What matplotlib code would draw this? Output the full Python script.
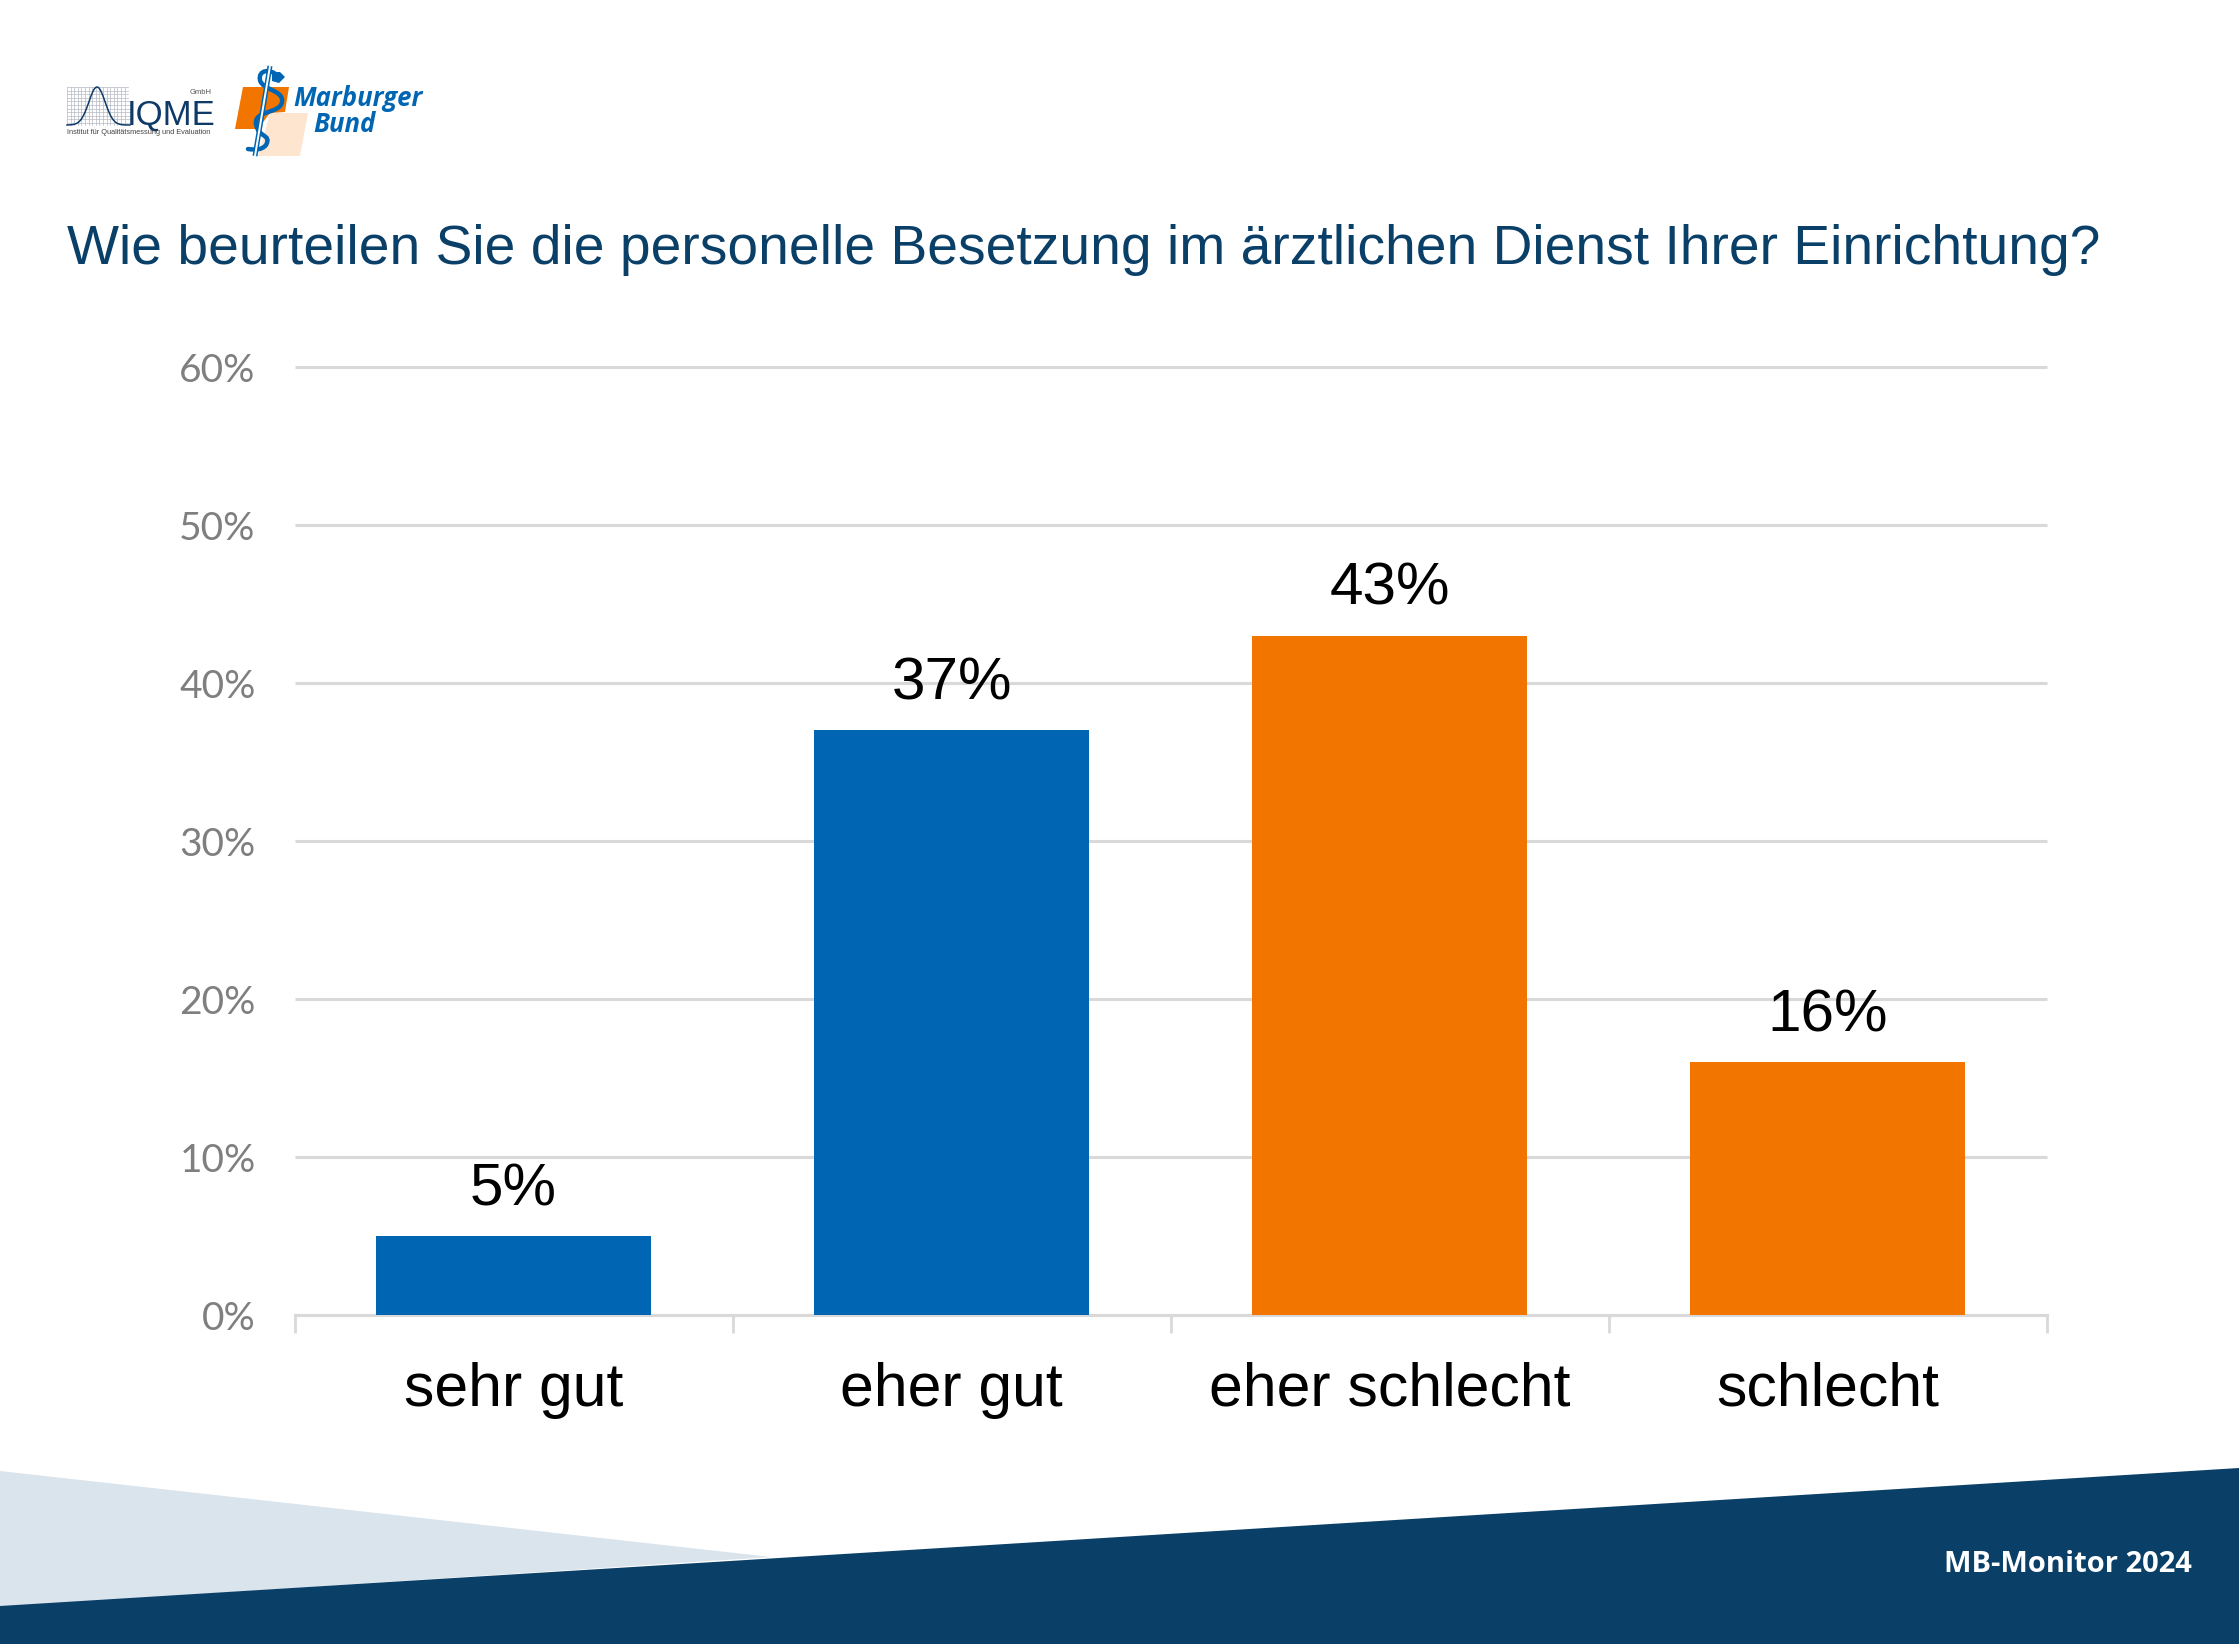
import numpy as np
import matplotlib
matplotlib.use("Agg")
import matplotlib.pyplot as plt
from matplotlib.patches import Polygon, PathPatch
from matplotlib.path import Path

categories = ["sehr gut", "eher gut", "eher schlecht", "schlecht"]
values = [5, 37, 43, 16]
value_labels = ["5%", "37%", "43%", "16%"]
bar_colors = ["#0066B3", "#0066B3", "#F27500", "#F27500"]
y_ticks = [0, 10, 20, 30, 40, 50, 60]
y_tick_labels = ["0%", "10%", "20%", "30%", "40%", "50%", "60%"]
title = "Wie beurteilen Sie die personelle Besetzung im ärztlichen Dienst Ihrer Einrichtung?"
footer = "MB-Monitor 2024"

W, H = 2239, 1644
fig = plt.figure(figsize=(W / 100, H / 100), dpi=100, facecolor="white")

# background overlay in pixel coordinates
bg = fig.add_axes([0, 0, 1, 1], zorder=0)
bg.set_xlim(0, W)
bg.set_ylim(H, 0)
bg.axis("off")
NAVY = "#0A3F68"
bg.add_patch(Polygon([(0, 1471), (771, 1557), (0, 1607)], fc="#DAE4EC", ec="none"))
bg.add_patch(Polygon([(0, 1606), (W, 1468), (W, H), (0, H)], fc=NAVY, ec="none"))
bg.text(2192, 1564, footer, color="white", fontsize=21, family="Open Sans",
        fontweight="bold", ha="right", va="center")
bg.text(67, 250, title, color="#0A3F68", fontsize=39.7, family="Liberation Sans",
        ha="left", va="center")

# IQME logo
for x in np.arange(67, 128, 3.6):
    bg.plot([x, x], [87, 125], color="#B5BAC2", lw=0.5)
for i, y in enumerate(np.arange(87, 125.5, 3.6)):
    bg.plot([67, 128 + (3 if i > 3 else 0)], [y, y], color="#B5BAC2", lw=0.5)
bx = np.linspace(67, 130, 80)
bg.plot(bx, 125 - 38 * np.exp(-((bx - 97) / 11.5) ** 2), color="#0F3A68", lw=1.1)
bg.text(127, 125, "IQME", color="#0F3A68", fontsize=25, family="Liberation Sans", ha="left",
        va="baseline")
bg.text(212, 92, "GmbH", color="#555555", fontsize=5.5, family="Liberation Sans", ha="right", va="center")
bg.text(67, 133, "Institut für Qualitätsmessung und Evaluation", color="#444444", fontsize=5.3,
        family="Liberation Sans", ha="left", va="center")

# Marburger Bund logo
bg.add_patch(Polygon([(243, 87), (289, 87), (285, 112), (270, 113), (258, 129), (235, 129)],
                     fc="#F27500", ec="none"))
bg.add_patch(Polygon([(270, 113), (308, 113), (300, 156), (258, 156)], fc="#FDE5D0", ec="none"))
bg.plot([270, 255], [66, 156], color="#0066B3", lw=3.6, solid_capstyle="butt")
bg.plot([270, 255], [66, 156], color="white", lw=1.4, solid_capstyle="butt")
snake = Path([(278, 76), (270, 68), (258, 70), (260, 80),
              (262, 90), (284, 90), (282, 102),
              (280, 114), (254, 110), (256, 124),
              (258, 138), (272, 134), (266, 145),
              (262, 150), (255, 150), (248, 149)],
             [Path.MOVETO] + [Path.CURVE4] * 15)
bg.add_patch(PathPatch(snake, fc="none", ec="#0066B3", lw=3.2, capstyle="round"))
bg.add_patch(Polygon([(272, 72), (280, 72), (285, 77), (279, 83), (272, 81)], fc="#0066B3", ec="none"))
bg.text(293, 99, "Marburger", color="#0066B3", fontsize=18.5, family="Open Sans",
        fontweight="bold", style="italic", ha="left", va="center")
bg.text(313, 125, "Bund", color="#0066B3", fontsize=18.5, family="Open Sans",
        fontweight="bold", style="italic", ha="left", va="center")

# chart
L, R, T, B = 294.5, 2046.5, 367, 1315
ax = fig.add_axes([L / W, 1 - B / H, (R - L) / W, (B - T) / H], zorder=1)
ax.patch.set_alpha(0)
x = np.arange(len(categories))
ax.bar(x, values, width=0.63, color=bar_colors, zorder=3)
for xi, v, lab in zip(x, values, value_labels):
    ax.annotate(lab, (xi, v), xytext=(0, 19), textcoords="offset pixels", ha="center", va="bottom",
                fontsize=43.4, family="Liberation Sans", color="black")
ax.set_xlim(-0.5, 3.5)
ax.set_ylim(0, 60)
ax.set_yticks(y_ticks)
ax.set_yticklabels(y_tick_labels, family="Lato", fontsize=28, color="#7F7F7F")
ax.yaxis.grid(True, color="#D9D9D9", lw=2.2, clip_on=False, solid_capstyle="butt")
ax.set_axisbelow(True)
ax.tick_params(axis="y", length=0, pad=28)
ax.set_xticks(np.arange(-0.5, 4, 1))
ax.set_xticklabels([])
ax.tick_params(axis="x", length=13, width=2, color="#D9D9D9", direction="out")
for xi, c in zip(x, categories):
    ax.annotate(c, (xi, 0), xytext=(0, -75), textcoords="offset pixels", ha="center", va="center",
                fontsize=43.7, family="Liberation Sans", color="black")
for s in ["top", "left", "right"]:
    ax.spines[s].set_visible(False)
ax.spines["bottom"].set_color("#D9D9D9")
ax.spines["bottom"].set_linewidth(2.2)

fig.savefig("out.png", dpi=100)
